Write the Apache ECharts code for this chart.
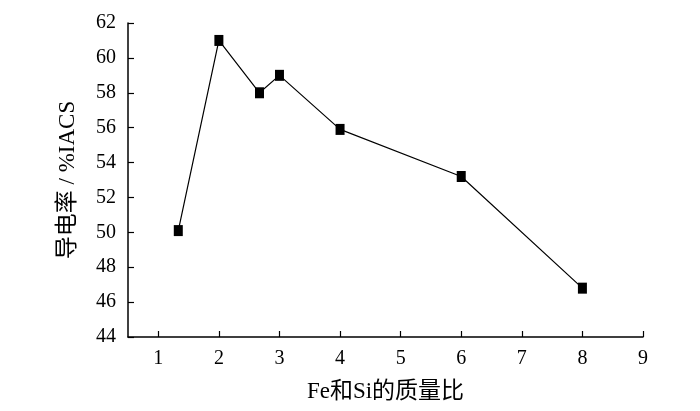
<!DOCTYPE html>
<html>
<head>
<meta charset="utf-8">
<script src="https://cdn.jsdelivr.net/npm/echarts@6/dist/echarts.min.js"></script>
<style>
html,body{margin:0;padding:0;background:#fff;}
#main{width:700px;height:411px;}
</style>
</head>
<body>
<div id="main"></div>
<script>
// Fe/Si 质量比 vs 导电率
var ratioData = [1.33, 2, 2.67, 3, 4, 6, 8];
var condData = [50.1, 61.0, 58.0, 59.0, 55.9, 53.2, 46.8];
var xTicks = [1, 2, 3, 4, 5, 6, 7, 8, 9];

var myChart = echarts.init(document.getElementById('main'));

var pts = [];
for (var i = 0; i < ratioData.length; i++) {
    pts.push([ratioData[i], condData[i]]);
}

var font = '"Liberation Serif", "Noto Sans CJK SC", serif';

var option = {
    animation: false,
    backgroundColor: '#fff',
    grid: {
        left: 128,
        right: 57,
        top: 23,
        bottom: 74
    },
    xAxis: {
        type: 'value',
        min: 0.5,
        max: 9,
        name: 'Fe和Si的质量比',
        nameLocation: 'middle',
        nameGap: 43,
        nameTextStyle: { fontFamily: font, fontSize: 23, color: '#000' },
        axisLine: { lineStyle: { color: '#000', width: 1.5 } },
        axisTick: { inside: true, length: 6, customValues: xTicks, lineStyle: { color: '#000', width: 1.2 } },
        axisLabel: {
            fontFamily: font, fontSize: 20, color: '#000', margin: 12,
            customValues: xTicks
        },
        splitLine: { show: false }
    },
    yAxis: {
        type: 'value',
        min: 44,
        max: 62,
        interval: 2,
        name: '导电率 / %IACS',
        nameLocation: 'middle',
        nameGap: 49,
        nameTextStyle: { fontFamily: font, fontSize: 23, color: '#000' },
        axisLine: { show: true, lineStyle: { color: '#000', width: 1.5 } },
        axisTick: { show: true, inside: true, length: 6, lineStyle: { color: '#000', width: 1.2 } },
        axisLabel: { fontFamily: font, fontSize: 20, color: '#000', margin: 12 },
        splitLine: { show: false }
    },
    series: [
        {
            type: 'line',
            data: pts,
            symbol: 'rect',
            symbolSize: [9, 11],
            itemStyle: { color: '#000' },
            lineStyle: { color: '#000', width: 1.2 }
        }
    ]
};

myChart.setOption(option);
</script>
</body>
</html>
